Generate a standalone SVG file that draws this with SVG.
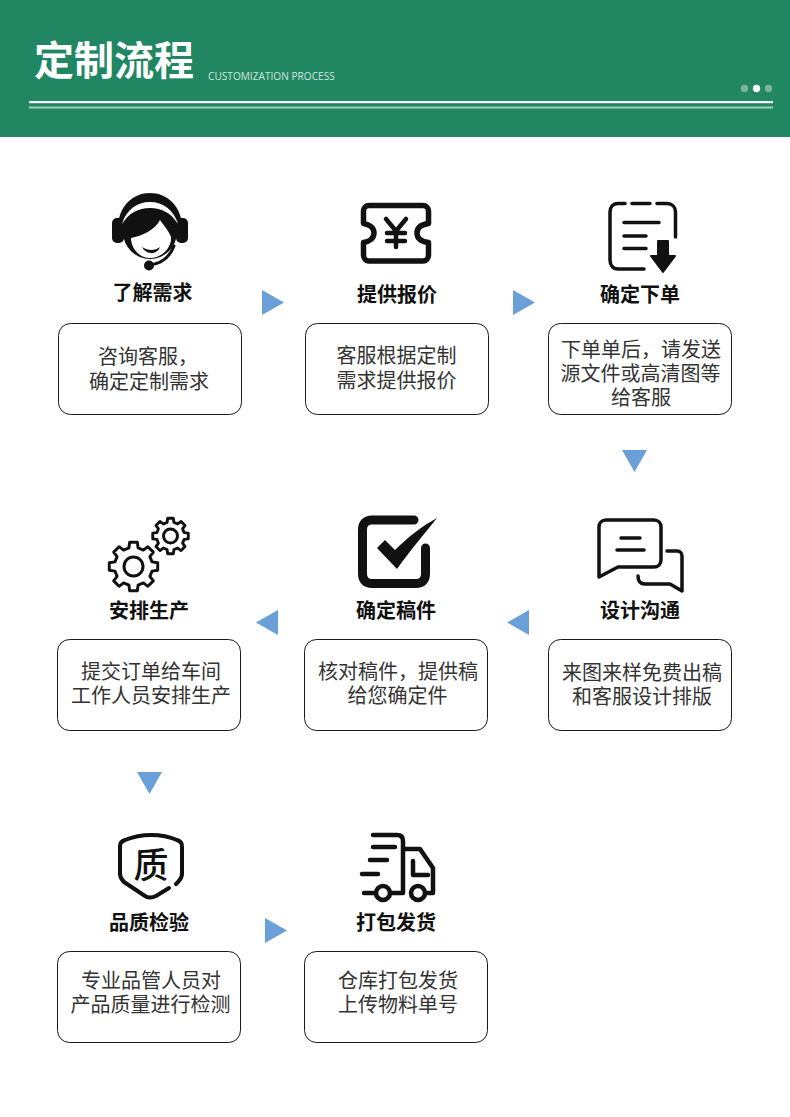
<svg xmlns="http://www.w3.org/2000/svg" xmlns:xlink="http://www.w3.org/1999/xlink" width="790" height="1117" viewBox="0 0 790 1117">
<style>
text{font-family:"Noto Sans CJK SC","Noto Sans",sans-serif}
.box{fill:#fff;stroke:#1a1a1a;stroke-width:1}
.lab{font-size:20px;font-weight:700;fill:#111;text-anchor:middle}
.txt{font-size:20px;fill:#333;text-anchor:middle}
.ln{fill:none;stroke:#111;stroke-linecap:round;stroke-linejoin:round}
.tri{fill:#6a9fd8}
</style>
<defs>
<polygon id="gear" points=".757,-.189 .988,-.156 .988,.156 .757,.189 .669,.402 .809,.588 .588,.809 .402,.669 .189,.757 .156,.988 -.156,.988 -.189,.757 -.402,.669 -.588,.809 -.809,.588 -.669,.402 -.757,.189 -.988,.156 -.988,-.156 -.757,-.189 -.669,-.402 -.809,-.588 -.588,-.809 -.402,-.669 -.189,-.757 -.156,-.988 .156,-.988 .189,-.757 .402,-.669 .588,-.809 .809,-.588 .669,-.402"/>
</defs>
<rect width="790" height="1117" fill="#fff"/>
<g id="header">
<rect width="790" height="137" fill="#218763"/>
<text x="34" y="75" font-size="40" font-weight="700" fill="#fff">定制流程</text>
<text x="208" y="80" font-size="10.150" fill="#cfe6dc" style="font-family:'Open Sans','Noto Sans',sans-serif">CUSTOMIZATION PROCESS</text>
<rect x="29" y="101" width="744" height="2.200" fill="#fff"/>
<rect x="29" y="106.500" width="744" height="2" fill="#9fd0bb"/>
<circle cx="744.500" cy="88.500" r="3.700" fill="#7cb39d"/>
<circle cx="756.500" cy="88.500" r="3.700" fill="#fff"/>
<circle cx="768.500" cy="88.500" r="3.700" fill="#7cb39d"/>
</g>
<g id="connectors">
<polygon class="tri" points="262,290 284,302.500 262,315"/>
<polygon class="tri" points="513,290 535,302.500 513,315"/>
<polygon class="tri" points="622,450 647,450 634.500,472"/>
<polygon class="tri" points="278,610 256,622.500 278,635"/>
<polygon class="tri" points="529,610 507,622.500 529,635"/>
<polygon class="tri" points="137,772 162,772 149.500,794"/>
<polygon class="tri" points="265,918 287,930.500 265,943"/>
</g>
<g id="node1">
<path d="M118,228C118,206 133,193 150,193C167,193 182,206 182,228Z" fill="#111"/>
<rect x="112" y="218" width="12" height="25" rx="5" fill="#111"/>
<rect x="176" y="218" width="12" height="25" rx="5" fill="#111"/>
<circle cx="150" cy="232" r="27" fill="#111"/>
<path d="M122,224C126,210 137,202 150,202C163,202 174,210 178,224C171,213 162,208 150,208C138,208 129,213 122,224Z" fill="#fff"/>
<path d="M131,238C142,236 155,230 160,220C164,226 169,231 171,237C172,247 162,258 150,258C139,258 131,248 131,238Z" fill="#fff"/>
<path d="M142,247C148,251 155,251 160,247C157,255 146,255 142,247Z" fill="#111"/>
<path d="M174,246C169,259 160,264 149,265" class="ln" stroke-width="3"/>
<circle cx="149" cy="265.500" r="5" fill="#111"/>
<text class="lab" x="152.500" y="300">了解需求</text>
<rect class="box" x="58.500" y="323.500" width="183" height="91" rx="12"/>
<text class="txt"><tspan x="148" y="364">咨询客服，</tspan><tspan x="149" y="389">确定定制需求</tspan></text>
</g>
<g id="node2">
<path d="M369,205.500H423C426,205.500 428.500,208 428.500,211V223.500C421,224.500 417,228 417,233C417,238 421,241.500 428.500,242.500V255C428.500,258.500 426,261 423,261H369C366,261 363.500,258.500 363.500,255V242.500C370,241.500 374,238 374,233C374,228 370,224.500 363.500,223.500V211C363.500,208 366,205.500 369,205.500Z" class="ln" stroke-width="5.500"/>
<path d="M386,219L396,231L406,219M387,233H405M387,241H405M396,231V247" class="ln" stroke-width="4.500"/>
<text class="lab" x="397" y="302">提供报价</text>
<rect class="box" x="305.500" y="323.500" width="183" height="91" rx="12"/>
<text class="txt"><tspan x="396.500" y="363">客服根据定制</tspan><tspan x="396.500" y="388">需求提供报价</tspan></text>
</g>
<g id="node3">
<path d="M625,203.500H618C613,203.500 610,207 610,212V260C610,265 613,269 618,269H644M632,203.500H650M657,203.500H667C672,203.500 675.500,207 675.500,212V237" class="ln" stroke-width="3.500"/>
<path d="M624,222.500H659M624,236H646M624,248.500H646" class="ln" stroke-width="3.500"/>
<path d="M658,241H668V256H675L663,272L651,256H658Z" fill="#111" stroke="#111" stroke-width="2" stroke-linejoin="round"/>
<text class="lab" x="640" y="302">确定下单</text>
<rect class="box" x="548.500" y="323.500" width="183" height="91" rx="12"/>
<text class="txt"><tspan x="641" y="357">下单单后，请发送</tspan><tspan x="640.500" y="381">源文件或高清图等</tspan><tspan x="641" y="405">给客服</tspan></text>
</g>
<g id="node4">
<use xlink:href="#gear" href="#gear" transform="translate(133.500,566.500) scale(24.500)" fill="none" stroke="#111" stroke-width=".12" stroke-linejoin="round"/>
<circle cx="133.500" cy="566.500" r="9.500" class="ln" stroke-width="3"/>
<use xlink:href="#gear" href="#gear" transform="translate(170.500,536) scale(18)" fill="none" stroke="#111" stroke-width=".16" stroke-linejoin="round"/>
<circle cx="170.500" cy="536" r="7" class="ln" stroke-width="3"/>
<text class="lab" x="149" y="618">安排生产</text>
<rect class="box" x="57.500" y="639.500" width="183" height="91" rx="12"/>
<text class="txt"><tspan x="151" y="679">提交订单给车间</tspan><tspan x="151" y="703">工作人员安排生产</tspan></text>
</g>
<g id="node5">
<path d="M414,520H372C366,520 362.500,523.500 362.500,529.500V574C362.500,580 366,583.500 372,583.500H416C422,583.500 425.500,580 425.500,574V548" class="ln" stroke-width="9" stroke-linecap="butt"/>
<path d="M377,548L385,540L395,550C408,537 422,526 437,518C425,533 409,552 397,569Z" fill="#111"/>
<text class="lab" x="396" y="618">确定稿件</text>
<rect class="box" x="304.500" y="639.500" width="183" height="91" rx="12"/>
<text class="txt"><tspan x="398" y="679">核对稿件，提供稿</tspan><tspan x="397.500" y="703">给您确定件</tspan></text>
</g>
<g id="node6">
<path d="M606,520H654C658,520 661,523 661,527V560C661,564 658,567 654,567H618L599,577V527C599,523 602,520 606,520Z" class="ln" stroke-width="3.500"/>
<path d="M667,551H677C680,551 682,553 682,556V591L670,584H645C640,584 638,581 638,576" class="ln" stroke-width="3.500"/>
<path d="M621,538H640M617,550H644" class="ln" stroke-width="3.500"/>
<text class="lab" x="640" y="618">设计沟通</text>
<rect class="box" x="548.500" y="639.500" width="183" height="91" rx="12"/>
<text class="txt"><tspan x="642" y="679.500">来图来样免费出稿</tspan><tspan x="642" y="703.500">和客服设计排版</tspan></text>
</g>
<g id="node7">
<path d="M169,888L156,896C152,898 148,898 145,896L124,882C122,880 120,877 120,874V846C120,843 122,841 125,840C135,836 142,835 151,835C160,835 168,836 177,840C180,841 182,843 182,846V874C182,877 180,880 178,882L176,884" class="ln" stroke-width="4"/>
<text x="151" y="878" font-size="35" font-weight="500" fill="#111" text-anchor="middle">质</text>
<text class="lab" x="149" y="930">品质检验</text>
<rect class="box" x="57.500" y="951.500" width="183" height="91" rx="12"/>
<text class="txt"><tspan x="151" y="988">专业品管人员对</tspan><tspan x="150.500" y="1012">产品质量进行检测</tspan></text>
</g>
<g id="node8">
<path d="M373,835H397C401,835 403,837 403,841V893H391M376,893H364" class="ln" stroke-width="4.500"/>
<path d="M404,849H420L433,868V893H426" class="ln" stroke-width="4.500"/>
<path d="M413,861V875H428" class="ln" stroke-width="4.500"/>
<path d="M373,847H395M370,860H387M362,874H378" class="ln" stroke-width="4.500"/>
<circle cx="383" cy="893" r="7" class="ln" stroke-width="4.500"/>
<circle cx="418" cy="893" r="7" class="ln" stroke-width="4.500"/>
<text class="lab" x="396" y="930">打包发货</text>
<rect class="box" x="304.500" y="951.500" width="183" height="91" rx="12"/>
<text class="txt"><tspan x="398" y="988">仓库打包发货</tspan><tspan x="398" y="1012">上传物料单号</tspan></text>
</g>
</svg>
